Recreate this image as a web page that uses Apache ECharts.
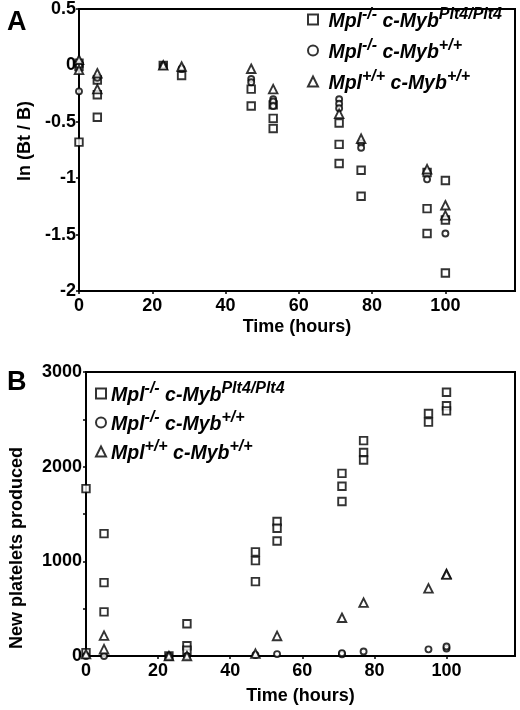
<!DOCTYPE html>
<html><head><meta charset="utf-8">
<script src="https://cdn.jsdelivr.net/npm/echarts@6/dist/echarts.min.js"></script>
<style>html,body{margin:0;padding:0;background:#fff}#c{width:520px;height:710px}</style>
</head><body><div id="c"></div>
<script>
// Panel A: ln(Bt/B) vs time (hours)
const aSquare = [[0,0.02],[0,-0.01],[0,-0.68],[5,-0.13],[5,-0.26],[5,-0.46],[23,0.0],[28,-0.09],[47,-0.21],[47,-0.36],[53,-0.35],[53,-0.47],[53,-0.56],[71,-0.51],[71,-0.70],[71,-0.87],[77,-0.93],[77,-1.16],[95,-0.95],[95,-1.27],[95,-1.49],[100,-1.02],[100,-1.37],[100,-1.84]];
const aCircle = [[0,0.0],[0,-0.23],[5,-0.11],[23,0.0],[28,-0.03],[47,-0.12],[47,-0.15],[53,-0.30],[53,-0.32],[53,-0.36],[71,-0.30],[71,-0.34],[71,-0.38],[77,-0.69],[77,-0.73],[95,-1.01],[100,-1.49]];
const aTriangle = [[0,0.05],[0,-0.04],[5,-0.07],[5,-0.21],[23,0.0],[28,-0.01],[47,-0.03],[53,-0.21],[71,-0.43],[77,-0.65],[95,-0.92],[100,-1.24],[100,-1.33]];
// Panel B: new platelets produced vs time (hours)
const bSquare = [[0,1768],[0,36],[5,1293],[5,775],[5,466],[23,0],[28,341],[28,108],[28,61],[47,1100],[47,1007],[47,786],[53,1421],[53,1350],[53,1214],[71,1929],[71,1793],[71,1632],[77,2275],[77,2150],[77,2071],[95,2561],[95,2471],[100,2786],[100,2643],[100,2589]];
const bCircle = [[0,0],[5,0],[23,0],[28,0],[47,10],[53,20],[71,18],[71,30],[77,48],[95,70],[100,80],[100,100]];
const bTriangle = [[0,20],[5,215],[5,72],[23,0],[28,0],[47,25],[53,212],[71,404],[77,564],[95,714],[100,868],[100,860]];
const xTicks = [0,20,40,60,80,100];
const aYTicks = ['0.5','0','-0.5','-1','-1.5','-2'];
const bYTicks = ['0','1000','2000','3000'];
const seriesNames = ['sq','ci','tr'];
const legendTexts = {
  sq: '{a|Mpl}{s|-/-}{a| c-Myb}{s|Plt4/Plt4}',
  ci: '{a|Mpl}{s|-/-}{a| c-Myb}{s|+/+}',
  tr: '{a|Mpl}{s|+/+}{a| c-Myb}{s|+/+}'
};

const FF = '"Liberation Sans", Arial, sans-serif';
const chart = echarts.init(document.getElementById('c'), null, {renderer:'canvas'});
const rich = {
  a:{fontSize:19.5,fontWeight:'bold',fontStyle:'italic',fontFamily:FF,color:'#000',lineHeight:25,verticalAlign:'bottom'},
  s:{fontSize:16,fontWeight:'bold',fontStyle:'italic',fontFamily:FF,color:'#000',lineHeight:12,verticalAlign:'top'}
};
const pointStyle = {color:'#fff',borderColor:'#000',borderWidth:1.9};
const symbols = {sq:['rect',7.5],ci:['circle',6],tr:['triangle',8.5]};
function mk(name, data, idx){
  return {name:name,type:'scatter',xAxisIndex:idx,yAxisIndex:idx,data:data,
    symbol:symbols[name][0],symbolSize:symbols[name][1],itemStyle:pointStyle,silent:true,z:3};
}
const axisLabelStyle = {color:'#000',fontSize:18,fontWeight:'bold',fontFamily:FF};
const lineStyle = {color:'#000',width:2};
function xAxis(idx, gap){
  return {type:'value',gridIndex:idx,min:0,max:119,interval:20,
    name:'Time (hours)',nameLocation:'middle',nameGap:gap,
    nameTextStyle:{color:'#000',fontSize:18,fontWeight:'bold',fontFamily:FF},
    axisLine:{onZero:false,lineStyle:lineStyle},axisTick:{length:3,lineStyle:{color:'#000',width:1.5}},
    axisLabel:Object.assign({margin:6,showMaxLabel:false,formatter:function(v){return xTicks.indexOf(v)>=0?String(v):'';}},axisLabelStyle),
    splitLine:{show:false}};
}
chart.setOption({
  animation:false,
  backgroundColor:'#fff',
  title:[
    {text:'A',left:2,top:4,textStyle:{fontSize:27,fontWeight:'bold',fontFamily:FF,color:'#000'}},
    {text:'B',left:2,top:364,textStyle:{fontSize:27,fontWeight:'bold',fontFamily:FF,color:'#000'}}
  ],
  legend:[
    {seriesIndex:[0,1,2],data:seriesNames,orient:'vertical',left:302,top:2,itemWidth:10,itemHeight:10,itemGap:6,
      formatter:function(n){return '{a| }'+legendTexts[n];},textStyle:{rich:rich},selectedMode:false},
    {data:seriesNames,orient:'vertical',left:90,top:376,itemWidth:10,itemHeight:10,itemGap:4,
      formatter:function(n){return legendTexts[n];},textStyle:{rich:rich},selectedMode:false}
  ],
  grid:[
    {left:79,top:6,right:5,bottom:419,show:true,borderColor:'#000',borderWidth:2,backgroundColor:'transparent'},
    {left:82,top:372,right:5,bottom:54,show:true,borderColor:'#000',borderWidth:2,backgroundColor:'transparent'}
  ],
  xAxis:[xAxis(0,27),xAxis(1,31)],
  yAxis:[
    {type:'value',gridIndex:0,min:-2,max:0.5,interval:0.5,
      name:'ln (Bt / B)',nameLocation:'middle',nameGap:45,
      nameTextStyle:{color:'#000',fontSize:18,fontWeight:'bold',fontFamily:FF,padding:[0,0,0,18]},
      axisLine:{onZero:false,lineStyle:lineStyle},axisTick:{length:3,lineStyle:{color:'#000',width:1.5}},
      axisLabel:Object.assign({margin:3,formatter:function(v){const s=String(Math.round(v*10)/10);return aYTicks.indexOf(s)>=0?s:'';}},axisLabelStyle),
      splitLine:{show:false}},
    {type:'value',gridIndex:1,min:0,max:3000,interval:500,
      name:'New platelets produced',nameLocation:'middle',nameGap:60,
      nameTextStyle:{color:'#000',fontSize:18,fontWeight:'bold',fontFamily:FF,padding:[0,68,0,0]},
      axisLine:{onZero:false,lineStyle:lineStyle},axisTick:{length:3,lineStyle:{color:'#000',width:1.5}},
      axisLabel:Object.assign({margin:4,formatter:function(v){return bYTicks.indexOf(String(v))>=0?String(v):'';}},axisLabelStyle),
      splitLine:{show:false}}
  ],
  series:[
    mk('sq',aSquare,0),mk('ci',aCircle,0),mk('tr',aTriangle,0),
    mk('sq',bSquare,1),mk('ci',bCircle,1),mk('tr',bTriangle,1)
  ]
});
</script></body></html>
